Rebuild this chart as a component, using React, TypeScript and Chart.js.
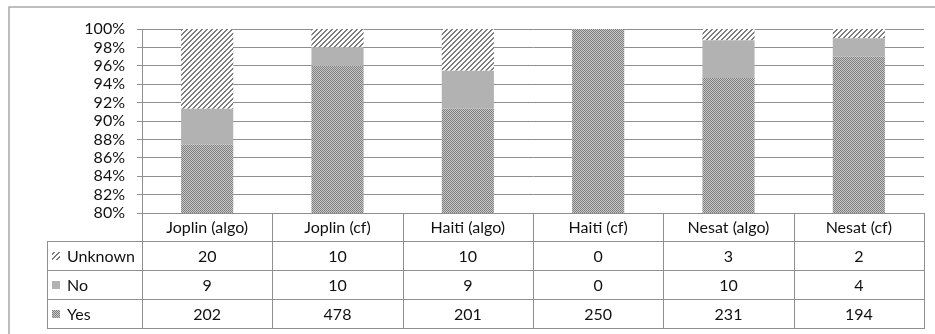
import React, { useEffect, useRef } from "react";
import { Chart, registerables } from "chart.js";

Chart.register(...registerables);

const categories = ["Joplin (algo)", "Joplin (cf)", "Haiti (algo)", "Haiti (cf)", "Nesat (algo)", "Nesat (cf)"];
const unknownCounts = [20, 10, 10, 0, 3, 2];
const noCounts = [9, 10, 9, 0, 10, 4];
const yesCounts = [202, 478, 201, 250, 231, 194];
const seriesNames = ["Unknown", "No", "Yes"];

const FONT = "Lato, 'Open Sans', sans-serif";
const FSIZE = 16;
const LINE = "#8f8f8f";

function makePattern(kind: string): CanvasPattern | string {
  const c = document.createElement("canvas");
  const size = kind === "stripes" ? 5 : 2;
  c.width = size;
  c.height = size;
  const g = c.getContext("2d");
  if (!g) return "#999";
  g.fillStyle = "#ffffff";
  g.fillRect(0, 0, size, size);
  for (let x = 0; x < size; x++) {
    for (let y = 0; y < size; y++) {
      if (kind === "stripes") {
        if ((x + y) % 5 < 2) {
          g.fillStyle = "#7d7d7d";
          g.fillRect(x, y, 1, 1);
        }
      } else {
        g.fillStyle = (x + y) % 2 === 0 ? "#7e7e7e" : "#c8c8c8";
        g.fillRect(x, y, 1, 1);
      }
    }
  }
  const p = g.createPattern(c, "repeat");
  return p || "#999";
}

export default function App() {
  const ref = useRef<HTMLCanvasElement | null>(null);

  useEffect(() => {
    if (!ref.current) return;
    const stripes = makePattern("stripes");
    const dots = makePattern("dots");
    const solid = "#b2b2b2";
    const totals = categories.map((_, i) => yesCounts[i] + noCounts[i] + unknownCounts[i]);
    const pct = (arr: number[]) => arr.map((v, i) => (totals[i] ? (v / totals[i]) * 100 : 0));

    const fills = [stripes, solid, dots];
    const counts = [unknownCounts, noCounts, yesCounts];

    const framePlugin = {
      id: "frame",
      beforeDraw(chart: any) {
        const ctx = chart.ctx;
        ctx.save();
        ctx.fillStyle = "#fff";
        ctx.fillRect(0, 0, chart.width, chart.height);
        ctx.strokeStyle = "#a8a8a8";
        ctx.lineWidth = 1.5;
        ctx.beginPath();
        ctx.moveTo(9, chart.height + 2);
        ctx.lineTo(9, 7);
        ctx.lineTo(chart.width + 2, 7);
        ctx.stroke();
        ctx.restore();
      },
    };

    const tablePlugin = {
      id: "dataTable",
      afterDraw(chart: any) {
        const ctx = chart.ctx;
        const area = chart.chartArea;
        const xs = chart.scales.x;
        const n = categories.length;
        const left = Math.round(area.left);
        const right = Math.round(area.right);
        const top = Math.round(area.bottom);
        const colW = (right - left) / n;
        const catH = 28;
        const rowH = 29;
        const tableLeft = 47;
        const rowsTop = top + catH;
        const bottom = rowsTop + rowH * 3;

        ctx.save();
        ctx.strokeStyle = LINE;
        ctx.lineWidth = 1;
        ctx.beginPath();
        for (let i = 0; i <= n; i++) {
          const x = Math.round(left + i * colW) + 0.5;
          ctx.moveTo(x, top);
          ctx.lineTo(x, bottom);
        }
        ctx.moveTo(tableLeft + 0.5, rowsTop);
        ctx.lineTo(tableLeft + 0.5, bottom);
        ctx.moveTo(left, top + 0.5);
        ctx.lineTo(right, top + 0.5);
        for (let r = 0; r <= 3; r++) {
          const y = rowsTop + r * rowH + 0.5;
          ctx.moveTo(tableLeft, y);
          ctx.lineTo(right + 1, y);
        }
        ctx.stroke();

        ctx.fillStyle = "#111";
        ctx.font = FSIZE + "px " + FONT;
        ctx.textAlign = "center";
        ctx.textBaseline = "middle";
        for (let i = 0; i < n; i++) {
          const cx = xs.getPixelForValue(i);
          ctx.fillText(categories[i], cx, top + catH / 2 + 1);
          for (let r = 0; r < 3; r++) {
            ctx.fillText(String(counts[r][i]), cx, rowsTop + r * rowH + rowH / 2 + 1);
          }
        }
        ctx.textAlign = "left";
        for (let r = 0; r < 3; r++) {
          const cy = rowsTop + r * rowH + rowH / 2;
          ctx.fillStyle = fills[r] as any;
          ctx.fillRect(52, Math.round(cy - 4), 8, 8);
          ctx.fillStyle = "#111";
          ctx.fillText(seriesNames[r], 67, cy + 1);
        }
        ctx.restore();
      },
    };

    const chart = new Chart(ref.current, {
      type: "bar",
      data: {
        labels: categories,
        datasets: [
          { label: "Yes", data: pct(yesCounts), backgroundColor: dots as any, borderWidth: 0 },
          { label: "No", data: pct(noCounts), backgroundColor: solid, borderWidth: 0 },
          { label: "Unknown", data: pct(unknownCounts), backgroundColor: stripes as any, borderWidth: 0 },
        ],
      },
      options: {
        responsive: false,
        animation: false,
        devicePixelRatio: 1,
        layout: { padding: { left: 0, right: 11, top: 29, bottom: 121 } },
        datasets: { bar: { categoryPercentage: 1, barPercentage: 0.4 } },
        plugins: { legend: { display: false }, tooltip: { enabled: false } },
        scales: {
          x: {
            stacked: true,
            display: false,
          },
          y: {
            stacked: true,
            min: 80,
            max: 100,
            afterFit(scale: any) {
              scale.width = 142;
            },
            ticks: {
              stepSize: 2,
              autoSkip: false,
              padding: 12,
              color: "#111",
              font: { family: FONT, size: FSIZE },
              callback: (v: any) => v + "%",
            },
            grid: { color: LINE, lineWidth: 1, tickLength: 5, drawTicks: true },
            border: { display: true, color: LINE, width: 1 },
          },
        },
      },
      plugins: [framePlugin, tablePlugin],
    } as any);
    return () => chart.destroy();
  }, []);

  return (
    <div style={{ position: "fixed", left: 0, top: 0, width: 935, height: 334, background: "#fff" }}>
      <canvas ref={ref} width={935} height={334} style={{ display: "block" }} />
    </div>
  );
}
